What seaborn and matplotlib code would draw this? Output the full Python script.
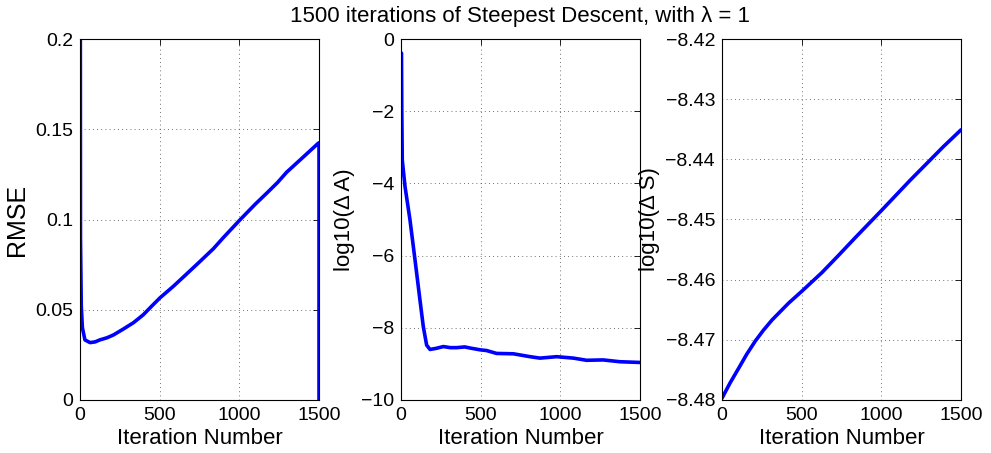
import numpy as np
import pandas as pd
import matplotlib
matplotlib.use("Agg")
import matplotlib.pyplot as plt
import seaborn as sns

# ---- data ----
rmse_iter = [0, 3, 8, 15, 31, 63, 95, 125, 170, 209, 270, 335, 397, 450, 502, 586, 669,
             750, 837, 900, 1004, 1100, 1172, 1240, 1297, 1400, 1496, 1500, 1500]
rmse_vals = [0.50, 0.09, 0.052, 0.040, 0.0333, 0.0318, 0.0322, 0.0333, 0.0345, 0.036,
             0.0392, 0.0428, 0.0472, 0.0520, 0.0566, 0.0630, 0.0698, 0.0765, 0.0838, 0.0900,
             0.0998, 0.1085, 0.1146, 0.1205, 0.1262, 0.1345, 0.1423, 0.1425, 0.0]

dA_iter = [3, 5, 8, 25, 56, 88, 119, 140, 161, 182, 220, 266, 310, 349, 400, 433, 496,
           537, 600, 705, 810, 872, 977, 1082, 1165, 1269, 1374, 1500]
dA_vals = [-0.39, -2.0, -3.35, -4.08, -5.0, -6.12, -7.23, -7.97, -8.48, -8.60, -8.57,
           -8.52, -8.55, -8.55, -8.53, -8.56, -8.61, -8.63, -8.71, -8.72, -8.80, -8.84,
           -8.80, -8.84, -8.90, -8.89, -8.94, -8.96]

dS_iter = [0, 50, 105, 155, 209, 260, 314, 418, 502, 628, 730, 837, 1001, 1180, 1389,
           1500]
dS_vals = [-8.4797, -8.4772, -8.4747, -8.4724, -8.4702, -8.4684, -8.4667, -8.4639,
           -8.4619, -8.4588, -8.4560, -8.4530, -8.4485, -8.4435, -8.4379, -8.4351]

x_ticks = [0, 500, 1000, 1500]
x_ticklabels = ["0", "500", "1000", "1500"]
y1_ticks = [0, 0.05, 0.1, 0.15, 0.2]
y1_ticklabels = ["0", "0.05", "0.1", "0.15", "0.2"]
y2_ticks = [-10, -8, -6, -4, -2, 0]
y2_ticklabels = ["\u221210", "\u22128", "\u22126", "\u22124", "\u22122", "0"]
y3_ticks = [-8.48, -8.47, -8.46, -8.45, -8.44, -8.43, -8.42]
y3_ticklabels = ["\u22128.48", "\u22128.47", "\u22128.46", "\u22128.45", "\u22128.44",
                 "\u22128.43", "\u22128.42"]

title = "1500 iterations of Steepest Descent, with \u03bb = 1"
xlabel = "Iteration Number"
ylabels = ["RMSE", "log10(\u0394 A)", "log10(\u0394 S)"]

sns.set_style("white")
plt.rcParams["font.family"] = ["Liberation Sans", "DejaVu Sans"]
plt.rcParams["axes.unicode_minus"] = True
plt.rcParams["text.color"] = "black"
plt.rcParams["axes.labelcolor"] = "black"

W, H = 991, 453
fig = plt.figure(figsize=(W / 100, H / 100), dpi=100)
fig.patch.set_facecolor("white")

def rect(l, r, t, b):
    return [l / W, 1 - b / H, (r - l) / W, (b - t) / H]

axes = [fig.add_axes(rect(80, 319, 39, 400)),
        fig.add_axes(rect(401, 640, 39, 400)),
        fig.add_axes(rect(722, 961, 39, 400))]

datasets = [(rmse_iter, rmse_vals), (dA_iter, dA_vals), (dS_iter, dS_vals)]
ylims = [(0, 0.2), (-10, 0), (-8.48, -8.42)]
yticks = [(y1_ticks, y1_ticklabels), (y2_ticks, y2_ticklabels), (y3_ticks, y3_ticklabels)]
ylab_sizes = [18, 16, 16]

for ax, (xs, ys), yl, (yt, ytl), lab, lsz in zip(axes, datasets, ylims, yticks, ylabels,
                                                ylab_sizes):
    df = pd.DataFrame({"iter": xs, "val": ys})
    sns.lineplot(data=df, x="iter", y="val", ax=ax, color="#0000ff", linewidth=2.6,
                 sort=False, estimator=None)
    ax.set_xlim(0, 1500)
    ax.set_ylim(*yl)
    ax.set_xticks(x_ticks)
    ax.set_xticklabels(x_ticklabels)
    ax.set_yticks(yt)
    ax.set_yticklabels(ytl)
    ax.grid(True, color="#444444", linestyle=(0, (1, 4)), linewidth=0.6)
    ax.set_axisbelow(True)
    ax.tick_params(direction="in", length=4, width=0.6, top=True, right=True,
                   labelsize=14, colors="black", pad=5)
    for s in ax.spines.values():
        s.set_visible(True)
        s.set_color("black")
        s.set_linewidth(0.8)
    ax.set_xlabel(xlabel, fontsize=16, labelpad=3, color="black")
    ax.set_ylabel(lab, fontsize=lsz, labelpad=4, color="black")

axes[1].set_title(title, fontsize=16, pad=12, color="black")

fig.savefig("out.png", dpi=100, facecolor="white")
